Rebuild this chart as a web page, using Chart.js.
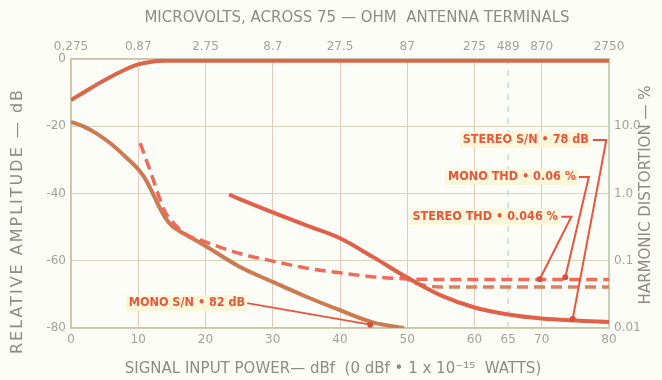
<!DOCTYPE html>
<html>
<head>
<meta charset="utf-8">
<script src="https://cdn.jsdelivr.net/npm/chart.js@4"></script>
<style>
  html, body { margin: 0; padding: 0; background: #fdfdf7; }
  #wrap { width: 662px; height: 380px; }
</style>
</head>
<body>
<div id="wrap"><canvas id="tunerChart"></canvas></div>
<script>
// tick values / labels
const bottomTicks = [0, 10, 20, 30, 40, 50, 60, 65, 70, 80];
const topTickLabels = ['0.275', '0.87', '2.75', '8.7', '27.5', '87', '275', '489', '870', '2750'];
const leftTicks = [0, -20, -40, -60, -80];
const rightTicks = [0.01, 0.1, 1, 10];
const rightTickLabels = ['0.01', '0.1', '1.0', '10.0'];
const guideX = 65;

// curves (x = dBf, y = dB)
const signalX = [0, 2, 4, 6, 8, 10, 12, 14, 16, 20, 80];
const signalY = [-12.2, -9.8, -7.4, -5.2, -3.2, -1.6, -0.8, -0.5, -0.5, -0.5, -0.5];

const monoSnX = [0, 2, 4, 6, 8, 10, 11, 12, 13, 14, 15, 16, 18, 20, 25, 30, 35, 40, 45, 49.5];
const monoSnY = [-18.7, -20.2, -22.4, -25.3, -28.9, -32.8, -35.5, -39.3, -43.5, -47.2, -49.6, -51, -53.3, -55.6, -61.7, -66.3, -70.7, -74.7, -78.4, -80];

const stereoSnX = [23.5, 25, 30, 35, 40, 45, 50, 55, 60, 65, 70, 75, 80];
const stereoSnY = [-40.3, -41.6, -45.6, -49.5, -53.3, -59, -65, -70.3, -73.9, -76, -77.2, -77.8, -78.2];

const monoThdX = [10.3, 11, 12, 13, 14, 15, 17, 20, 25, 30, 35, 40, 45, 50, 60, 80];
const monoThdY = [-25, -29, -34.5, -40.5, -45.5, -48.3, -52, -54.4, -57.8, -60.1, -62.2, -63.6, -64.8, -65.4, -65.6, -65.6];

const stereoThdX = [49, 51, 53, 55, 80];
const stereoThdY = [-64.2, -66.5, -67.5, -67.8, -67.8];

// callouts
const calloutTexts = ['STEREO S/N • 78 dB', 'MONO THD • 0.06 %', 'STEREO THD • 0.046 %', 'MONO S/N • 82 dB'];
const calloutX = [77.0, 75.1, 72.4, 25.9];
const calloutY = [-24.1, -35.1, -46.9, -72.6];
const stereoSnPtrX = [77.6, 79.6, 74.6];
const stereoSnPtrY = [-24.1, -24.1, -77.3];
const monoThdPtrX = [75.5, 77.0, 73.5];
const monoThdPtrY = [-35.1, -35.1, -64.9];
const stereoThdPtrX = [72.9, 74.4, 69.7];
const stereoThdPtrY = [-46.9, -46.9, -65.5];
const monoSnPtrX = [26.2, 44.5];
const monoSnPtrY = [-72.6, -79];

const pts = (xs, ys) => xs.map((x, i) => ({ x, y: ys[i] }));

const curve = (data, color, extra) => Object.assign({
  data, borderColor: color, borderWidth: 4, pointRadius: 0,
  cubicInterpolationMode: 'monotone', fill: false
}, extra || {});

const pointer = (data) => ({
  data, borderColor: '#e8553e', borderWidth: 2, tension: 0, fill: false,
  pointRadius: ctx => ctx.dataIndex === data.length - 1 ? 3 : 0,
  pointBackgroundColor: '#d8503c', pointBorderWidth: 0
});

const textPlugin = {
  id: 'chartTexts',
  afterDatasetsDraw(chart) {
    const { ctx } = chart;
    const sx = chart.scales.x, sy = chart.scales.y;
    ctx.save();
    ctx.font = 'bold 12.5px "DejaVu Sans Condensed", "DejaVu Sans"';
    ctx.textAlign = 'right';
    ctx.textBaseline = 'middle';
    calloutTexts.forEach((t, i) => {
      const px = sx.getPixelForValue(calloutX[i]);
      const py = sy.getPixelForValue(calloutY[i]);
      const w = ctx.measureText(t).width;
      ctx.fillStyle = 'rgba(253,246,214,0.9)';
      ctx.fillRect(px - w - 3, py - 8, w + 5, 16);
      ctx.fillStyle = '#e8553e';
      ctx.fillText(t, px, py);
    });
    ctx.restore();
  },
  afterDraw(chart) {
    const { ctx } = chart;
    ctx.save();
    ctx.fillStyle = '#8d8c82';
    ctx.textAlign = 'center';
    ctx.textBaseline = 'middle';
    ctx.font = '15px "DejaVu Sans"';
    ctx.fillText('MICROVOLTS, ACROSS 75 — OHM  ANTENNA TERMINALS', 357, 18);
    ctx.fillText('SIGNAL INPUT POWER— dBf  (0 dBf • 1 x 10⁻¹⁵  WATTS)', 333, 369);
    ctx.save();
    ctx.font = '16px "DejaVu Sans"';
    ctx.letterSpacing = '2px';
    ctx.translate(18, 221);
    ctx.rotate(-Math.PI / 2);
    ctx.fillText('RELATIVE AMPLITUDE — dB', 0, 0);
    ctx.restore();
    ctx.save();
    ctx.font = '15px "DejaVu Sans"';
    ctx.translate(646, 195);
    ctx.rotate(-Math.PI / 2);
    ctx.fillText('HARMONIC DISTORTION — %', 0, 0);
    ctx.restore();
    ctx.restore();
  }
};

const tickFont = { family: '"DejaVu Sans"', size: 12 };
const tickColor = '#a3a296';

new Chart(document.getElementById('tunerChart'), {
  type: 'line',
  data: {
    datasets: [
      pointer(pts(stereoSnPtrX, stereoSnPtrY)),
      pointer(pts(monoThdPtrX, monoThdPtrY)),
      pointer(pts(stereoThdPtrX, stereoThdPtrY)),
      pointer(pts(monoSnPtrX, monoSnPtrY)),
      curve(pts(signalX, signalY), '#dc6649'),
      curve(pts(stereoSnX, stereoSnY), '#e0604a'),
      curve(pts(monoThdX, monoThdY), '#ef6a5a', { borderDash: [11, 6], borderWidth: 3.5 }),
      curve(pts(stereoThdX, stereoThdY), '#d9805e', { borderDash: [11, 6], borderWidth: 3.5 }),
      curve(pts(monoSnX, monoSnY), '#cc7a52'),
      { data: [{ x: guideX, y: -80 }, { x: guideX, y: 0 }], borderColor: '#b5cdbd',
        borderWidth: 1, borderDash: [6, 6], pointRadius: 0, fill: false }
    ]
  },
  options: {
    responsive: true,
    maintainAspectRatio: false,
    animation: false,
    layout: { padding: 0 },
    plugins: { legend: { display: false }, tooltip: { enabled: false } },
    scales: {
      x: {
        type: 'linear', position: 'bottom', min: 0, max: 80,
        afterBuildTicks: s => { s.ticks = bottomTicks.map(v => ({ value: v })); },
        afterFit: s => { s.height = 52; },
        ticks: { font: tickFont, color: tickColor, padding: 5, maxRotation: 0, autoSkip: false },
        grid: { drawTicks: false, lineWidth: 1,
          color: c => c.tick && c.tick.value === guideX ? 'rgba(0,0,0,0)' : '#e5c9bc' },
        border: { color: '#c9c4aa', width: 1.5 }
      },
      x2: {
        type: 'linear', position: 'top', min: 0, max: 80,
        afterBuildTicks: s => { s.ticks = bottomTicks.map(v => ({ value: v })); },
        afterFit: s => { s.height = 59; },
        ticks: { font: tickFont, color: tickColor, padding: 5, maxRotation: 0, autoSkip: false,
          callback: (v, i) => topTickLabels[i] },
        grid: { drawOnChartArea: false, drawTicks: false },
        border: { color: '#c9c4aa', width: 1.5 }
      },
      y: {
        type: 'linear', position: 'left', min: -80, max: 0,
        afterBuildTicks: s => { s.ticks = leftTicks.map(v => ({ value: v })); },
        afterFit: s => { s.width = 71; },
        ticks: { font: tickFont, color: tickColor, padding: 5 },
        grid: { drawTicks: false, color: '#d6d4b6', lineWidth: 1 },
        border: { color: '#c9c4aa', width: 1.5 }
      },
      y2: {
        type: 'logarithmic', position: 'right', min: 0.01, max: 100,
        afterBuildTicks: s => { s.ticks = rightTicks.map(v => ({ value: v })); },
        afterFit: s => { s.width = 53; },
        ticks: { font: tickFont, color: tickColor, padding: 5,
          callback: (v, i) => rightTickLabels[i] },
        grid: { drawOnChartArea: false, drawTicks: false },
        border: { color: '#c5d2b8', width: 1.5 }
      }
    }
  },
  plugins: [textPlugin]
});
</script>
</body>
</html>
